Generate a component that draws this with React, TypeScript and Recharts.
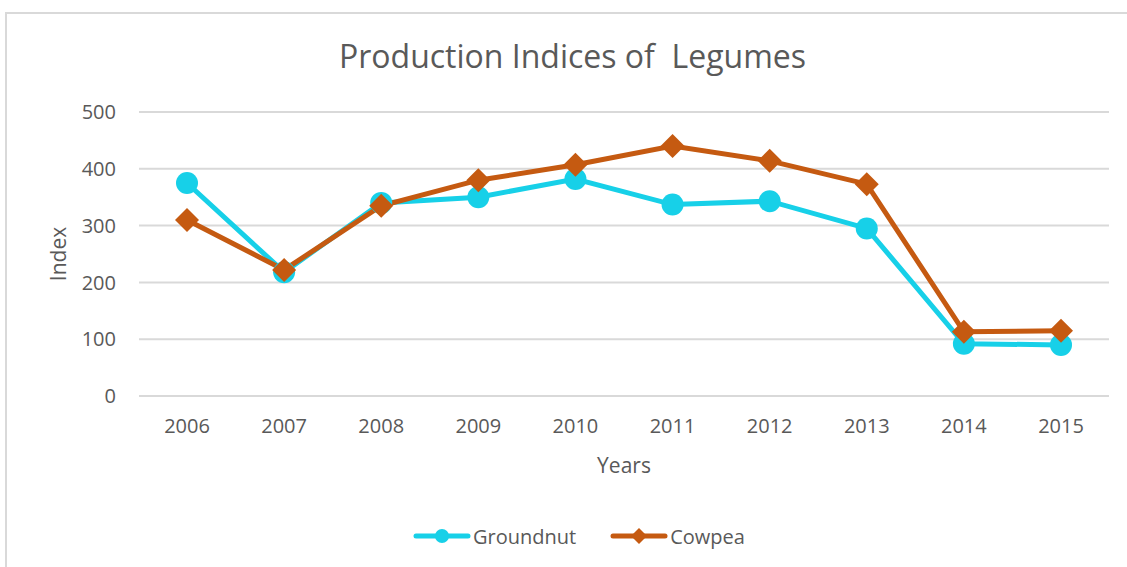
import { LineChart, Line, XAxis, YAxis, CartesianGrid, Legend } from 'recharts';

const years = ['2006', '2007', '2008', '2009', '2010', '2011', '2012', '2013', '2014', '2015'];
const groundnut = [375, 218, 340, 350, 382, 337, 343, 295, 92, 90];
const cowpea = [310, 222, 335, 380, 407, 440, 414, 373, 113, 115];
const yTicks = [0, 100, 200, 300, 400, 500];

const data = years.map((year, i) => ({ year, Groundnut: groundnut[i], Cowpea: cowpea[i] }));

const CYAN = '#17D0E8';
const ORANGE = '#C55A11';
const TEXT = '#595959';
const FONT = '"Open Sans", sans-serif';

const Diamond = (props: any) => {
    const { cx, cy, size = 12, fill } = props;
    if (cx == null || cy == null) return null;
    return (
        <polygon
            points={`${cx},${cy - size} ${cx + size},${cy} ${cx},${cy + size} ${cx - size},${cy}`}
            fill={fill}
        />
    );
};

const Circle = (props: any) => {
    const { cx, cy, r = 11, fill } = props;
    if (cx == null || cy == null) return null;
    return <circle cx={cx} cy={cy} r={r} fill={fill} />;
};

const renderLegend = () => (
    <div style={{ display: 'flex', justifyContent: 'center', alignItems: 'center', height: 30, fontFamily: FONT, fontSize: 20, color: TEXT }}>
        <svg width={58} height={20} style={{ marginRight: 2 }}>
            <line x1={3} y1={10} x2={55} y2={10} stroke={CYAN} strokeWidth={5} strokeLinecap="round" />
            <circle cx={29} cy={10} r={7} fill={CYAN} />
        </svg>
        <span style={{ marginRight: 34 }}>Groundnut</span>
        <svg width={58} height={20} style={{ marginRight: 2 }}>
            <line x1={3} y1={10} x2={55} y2={10} stroke={ORANGE} strokeWidth={5} strokeLinecap="round" />
            <Diamond cx={29} cy={10} size={8} fill={ORANGE} />
        </svg>
        <span>Cowpea</span>
    </div>
);

const App = () => {
    return (
        <div style={{ position: 'absolute', left: 0, top: 0, width: 1127, height: 567, overflow: 'hidden', background: '#fff' }}>
            <div style={{ position: 'absolute', left: 5, top: 12, width: 1200, height: 600, borderLeft: '2px solid #D9D9D9', borderTop: '2px solid #D9D9D9' }} />
            <div style={{ position: 'absolute', left: 0, top: 34, width: 1145, textAlign: 'center', fontFamily: FONT, fontSize: 32, color: TEXT }}>
                Production Indices of&nbsp; Legumes
            </div>
            <div style={{ position: 'absolute', left: 0, top: 0 }}>
                <LineChart width={1127} height={567} data={data} margin={{ top: 112, right: 18, left: 49, bottom: 16 }}>
                    <CartesianGrid vertical={false} stroke="#D9D9D9" strokeWidth={2} />
                    <XAxis
                        dataKey="year"
                        height={125}
                        axisLine={false}
                        tickLine={false}
                        tickMargin={17}
                        padding={{ left: 48, right: 48 }}
                        tick={{ fill: TEXT, fontSize: 20, fontFamily: FONT }}
                        label={(p: any) => {
                            const vb = p.viewBox;
                            return (
                                <text x={vb.x + vb.width / 2} y={vb.y + 77} textAnchor="middle" fill={TEXT} fontSize={21} fontFamily={FONT}>
                                    Years
                                </text>
                            );
                        }}
                    />
                    <YAxis
                        width={90}
                        domain={[0, 500]}
                        ticks={yTicks}
                        axisLine={false}
                        tickLine={false}
                        tickMargin={17}
                        tick={{ fill: TEXT, fontSize: 20, fontFamily: FONT }}
                        label={(p: any) => {
                            const vb = p.viewBox;
                            const x = vb.x + 9;
                            const y = vb.y + vb.height / 2;
                            return (
                                <text x={x} y={y} transform={`rotate(-90, ${x}, ${y})`} textAnchor="middle" dominantBaseline="central" fill={TEXT} fontSize={21} fontFamily={FONT}>
                                    Index
                                </text>
                            );
                        }}
                    />
                    <Legend verticalAlign="bottom" content={renderLegend} />
                    <Line
                        type="linear"
                        dataKey="Groundnut"
                        stroke={CYAN}
                        strokeWidth={5}
                        dot={<Circle fill={CYAN} r={11} />}
                        activeDot={false}
                        isAnimationActive={false}
                    />
                    <Line
                        type="linear"
                        dataKey="Cowpea"
                        stroke={ORANGE}
                        strokeWidth={5}
                        dot={<Diamond fill={ORANGE} size={12} />}
                        activeDot={false}
                        isAnimationActive={false}
                    />
                </LineChart>
            </div>
        </div>
    );
};

export default App;
